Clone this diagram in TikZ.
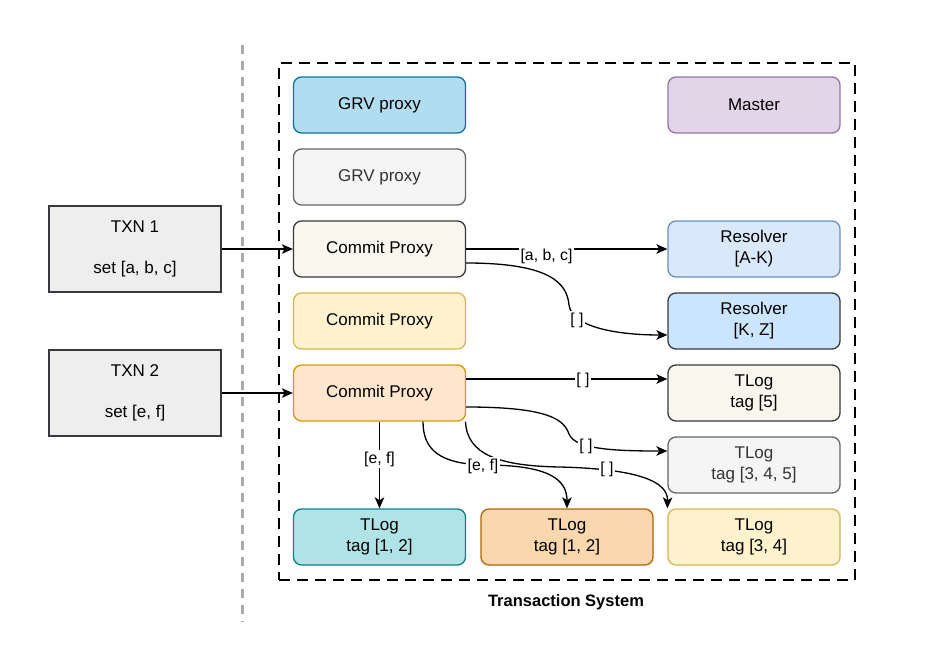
\documentclass[tikz,border=0pt]{standalone}
\usepackage{fontspec}
\setmainfont{Liberation Sans}
\usetikzlibrary{arrows.meta}
\definecolor{cGRVf}{HTML}{B1DDF0}\definecolor{cGRVd}{HTML}{10739E}
\definecolor{cGRYf}{HTML}{F5F5F5}\definecolor{cGRYd}{HTML}{666666}\definecolor{cGRYt}{HTML}{333333}
\definecolor{cCRf}{HTML}{F9F7ED}\definecolor{cDK}{HTML}{36393D}
\definecolor{cYf}{HTML}{FFF2CC}\definecolor{cYd}{HTML}{D6B656}
\definecolor{cOf}{HTML}{FFE6CC}\definecolor{cOd}{HTML}{D79B00}
\definecolor{cMf}{HTML}{E1D5E7}\definecolor{cMd}{HTML}{9673A6}
\definecolor{cBf}{HTML}{DAE8FC}\definecolor{cBd}{HTML}{6C8EBF}
\definecolor{cB2f}{HTML}{CCE5FF}
\definecolor{cTf}{HTML}{B0E3E6}\definecolor{cTd}{HTML}{0E8088}
\definecolor{cO2f}{HTML}{FAD7AC}\definecolor{cO2d}{HTML}{B46504}
\definecolor{cTXf}{HTML}{EEEEEE}
\definecolor{cSep}{HTML}{ABABAB}
\begin{document}
\begin{tikzpicture}[x=1pt,y=-1pt,
  box/.style={rounded corners=8pt, line width=1.3pt, minimum width=172pt, minimum height=56pt,
    inner sep=0pt, align=center, font=\fontsize{17}{21}\selectfont},
  txnbox/.style={line width=1.3pt, draw=cDK, fill=cTXf, minimum width=172pt, minimum height=86pt,
    inner sep=0pt, align=center, font=\fontsize{17}{20.5}\selectfont},
  arr/.style={line width=1.3pt, -{Stealth[length=11pt,width=9.5pt,inset=2.8pt]}},
  lbl/.style={fill=white, inner sep=1.5pt, font=\fontsize{15.8}{18}\selectfont}]
\useasboundingbox (0,0) rectangle (942,664);

% separator and container
\coordinate (sepT) at (242,45);
\coordinate (sepB) at (242,622);
\draw[cSep, line width=3pt, dash pattern=on 9pt off 7pt] (sepT) -- (sepB);
\node[draw=black, line width=1.3pt, dash pattern=on 11pt off 7pt, minimum width=576pt, minimum height=517pt, inner sep=0pt] (sys) at (567,321.5) {};
\node[font=\fontsize{16.5}{20}\selectfont\bfseries] (systitle) at (566,602) {Transaction System};

% left column
\node[box, fill=cGRVf, draw=cGRVd] (grv1) at (379.5,105) {GRV proxy};
\node[box, fill=cGRYf, draw=cGRYd, text=cGRYt] (grv2) at (379.5,177) {GRV proxy};
\node[box, fill=cCRf, draw=cDK] (cp1) at (379.5,249) {Commit Proxy};
\node[box, fill=cYf, draw=cYd] (cp2) at (379.5,321) {Commit Proxy};
\node[box, fill=cOf, draw=cOd] (cp3) at (379.5,393) {Commit Proxy};

% right column
\node[box, fill=cMf, draw=cMd] (master) at (754,105) {Master};
\node[box, fill=cBf, draw=cBd] (res1) at (754,249) {Resolver\\{[A-K)}};
\node[box, fill=cB2f, draw=cDK] (res2) at (754,321) {Resolver\\{[K, Z]}};
\node[box, fill=cCRf, draw=cDK] (tl5) at (754,393) {TLog\\tag [5]};
\node[box, fill=cGRYf, draw=cGRYd, text=cGRYt] (tl345) at (754,465) {TLog\\tag [3, 4, 5]};

% bottom row
\node[box, fill=cTf, draw=cTd] (tlA) at (379.5,537) {TLog\\tag [1, 2]};
\node[box, fill=cO2f, draw=cO2d] (tlB) at (567,537) {TLog\\tag [1, 2]};
\node[box, fill=cYf, draw=cYd] (tlC) at (754,537) {TLog\\tag [3, 4]};

% transactions
\node[txnbox] (txn1) at (135,249) {TXN 1\\[20.5pt]set [a, b, c]};
\node[txnbox] (txn2) at (135,393) {TXN 2\\[20.5pt]set [e, f]};

% connectors
\draw[arr] (txn1) -- (cp1);
\draw[arr] (txn2) -- (cp3);

\draw[arr] (cp1) -- (res1);
\node[lbl] (l1) at (546.5,256) {[a, b, c]};

\draw[arr] ([yshift=-14pt]cp1.east) .. controls (550,263) and (567,283) .. (569,305)
  .. controls (572,328) and (620,335) .. ([yshift=-14pt]res2.west);
\node[lbl] (l2) at (577,320) {[ ]};

\draw[arr] ([yshift=14pt]cp3.east) -- ([yshift=14pt]tl5.west);
\node[lbl] (l3) at (583,380) {[ ]};

\draw[arr] ([yshift=-14pt]cp3.east) .. controls (550,407) and (564,420) .. (569,434)
  .. controls (575,450) and (620,451) .. ([yshift=14pt]tl345.west);
\node[lbl] (l4) at (586,446) {[ ]};

\draw[arr] (cp3.south) -- (tlA.north);
\node[lbl] (l5) at (379.5,459) {[e, f]};

\draw[arr] ([xshift=86pt]cp3.south) .. controls (467,455) and (500,466) .. (560,467)
  .. controls (640,469) and (668,482) .. (tlC.north west);
\node[lbl] (l7) at (607,469) {[ ]};

\draw[arr] ([xshift=43.5pt]cp3.south) .. controls (423,450) and (440,464) .. (485,465)
  .. controls (550,465) and (567,480) .. (tlB.north);
\node[lbl] (l6) at (483,466) {[e, f]};
\end{tikzpicture}
\end{document}
